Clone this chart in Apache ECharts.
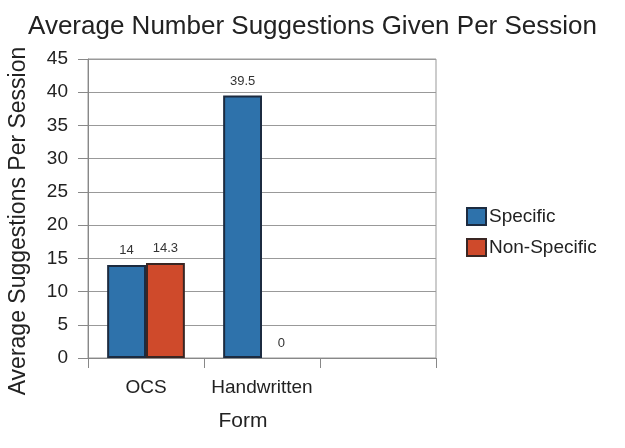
<!DOCTYPE html>
<html><head><meta charset="utf-8">
<script src="https://cdn.jsdelivr.net/npm/echarts@6/dist/echarts.min.js"></script>
<style>html,body{margin:0;padding:0;background:#fff}#c{width:625px;height:448px}</style>
</head><body><div id="c"></div>
<script>
const categories = ['OCS', 'Handwritten', ''];
const specific = [14, 39.5, null];
const nonSpecific = [14.3, 0, null];
const seriesNames = ['Specific', 'Non-Specific'];
const titleText = 'Average Number Suggestions Given Per Session';
const yName = 'Average Suggestions Per Session';
const xName = 'Form';

// zero-height bars draw no outline
const withZeroNoBorder = arr => arr.map(v => v === 0 ? {value: v, itemStyle: {borderWidth: 0}} : v);

const chart = echarts.init(document.getElementById('c'));
const txt = '#222';
const font = 'Liberation Sans';
chart.setOption({
  animation: false,
  backgroundColor: '#fff',
  title: {
    text: titleText,
    left: 'center', top: 9,
    textStyle: {fontFamily: font, fontSize: 26, fontWeight: 'normal', color: txt}
  },
  legend: {
    orient: 'vertical', left: 461, top: 202,
    itemWidth: 19, itemHeight: 17, itemGap: 12,
    icon: 'rect',
    textStyle: {fontFamily: font, fontSize: 19, color: txt, padding: [0, 0, 0, -2]},
    data: seriesNames
  },
  graphic: [
    {type: 'text', x: 19, y: 221, rotation: Math.PI / 2,
     style: {text: yName, fontFamily: font, fontSize: 23, fill: txt, align: 'center', verticalAlign: 'middle'}},
    {type: 'text', x: 243, y: 421,
     style: {text: xName, fontFamily: font, fontSize: 21, fill: txt, align: 'center', verticalAlign: 'middle'}}
  ],
  grid: {left: 88, right: 189, top: 59, bottom: 90, show: true, borderColor: '#999', borderWidth: 1},
  xAxis: {
    type: 'category', data: categories,
    axisLine: {lineStyle: {color: '#888'}},
    axisTick: {show: true, length: 10, lineStyle: {color: '#888'}},
    axisLabel: {fontFamily: font, fontSize: 19, color: txt, margin: 20, interval: 0}
  },
  yAxis: {
    type: 'value', min: 0, max: 45, interval: 5,
    axisLine: {show: true, lineStyle: {color: '#888'}},
    axisTick: {show: true, length: 10, lineStyle: {color: '#888'}},
    axisLabel: {fontFamily: font, fontSize: 19, color: txt, margin: 20},
    splitLine: {lineStyle: {color: '#999'}}
  },
  series: [
    {
      name: seriesNames[0], type: 'bar', data: withZeroNoBorder(specific),
      barGap: '0%', barCategoryGap: '33%',
      itemStyle: {color: '#2e72ab', borderColor: '#1c2b40', borderWidth: 2},
      label: {show: true, position: 'top', distance: 8, fontFamily: font, fontSize: 13, color: '#333'}
    },
    {
      name: seriesNames[1], type: 'bar', data: withZeroNoBorder(nonSpecific),
      itemStyle: {color: '#cf4a2b', borderColor: '#3a2623', borderWidth: 2},
      label: {show: true, position: 'top', distance: 8, fontFamily: font, fontSize: 13, color: '#333'}
    }
  ]
});
</script></body></html>
